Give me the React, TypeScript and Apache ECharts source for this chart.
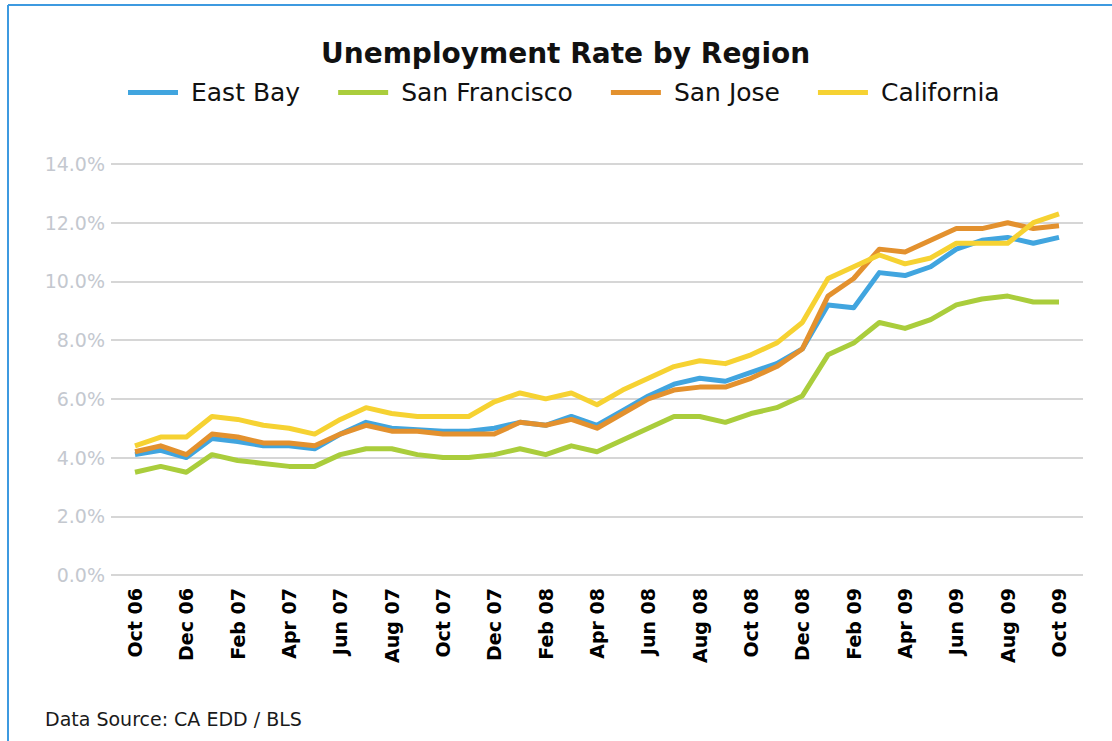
import React, { useEffect, useRef } from "react";
import * as echarts from "echarts";

const months = [
  "Oct 06", "Nov 06", "Dec 06", "Jan 07", "Feb 07", "Mar 07", "Apr 07", "May 07", "Jun 07",
  "Jul 07", "Aug 07", "Sep 07", "Oct 07", "Nov 07", "Dec 07", "Jan 08", "Feb 08", "Mar 08",
  "Apr 08", "May 08", "Jun 08", "Jul 08", "Aug 08", "Sep 08", "Oct 08", "Nov 08", "Dec 08",
  "Jan 09", "Feb 09", "Mar 09", "Apr 09", "May 09", "Jun 09", "Jul 09", "Aug 09", "Sep 09", "Oct 09",
];

const eastBay = [
  4.1, 4.25, 4.0, 4.65, 4.55, 4.4, 4.4, 4.3, 4.8, 5.2, 5.0, 4.95, 4.9, 4.9, 5.0, 5.2, 5.1, 5.4,
  5.1, 5.6, 6.1, 6.5, 6.7, 6.6, 6.9, 7.2, 7.7, 9.2, 9.1, 10.3, 10.2, 10.5, 11.1, 11.4, 11.5, 11.3, 11.5,
];
const sanFrancisco = [
  3.5, 3.7, 3.5, 4.1, 3.9, 3.8, 3.7, 3.7, 4.1, 4.3, 4.3, 4.1, 4.0, 4.0, 4.1, 4.3, 4.1, 4.4,
  4.2, 4.6, 5.0, 5.4, 5.4, 5.2, 5.5, 5.7, 6.1, 7.5, 7.9, 8.6, 8.4, 8.7, 9.2, 9.4, 9.5, 9.3, 9.3,
];
const sanJose = [
  4.2, 4.4, 4.1, 4.8, 4.7, 4.5, 4.5, 4.4, 4.8, 5.1, 4.9, 4.9, 4.8, 4.8, 4.8, 5.2, 5.1, 5.3,
  5.0, 5.5, 6.0, 6.3, 6.4, 6.4, 6.7, 7.1, 7.7, 9.5, 10.1, 11.1, 11.0, 11.4, 11.8, 11.8, 12.0, 11.8, 11.9,
];
const california = [
  4.4, 4.7, 4.7, 5.4, 5.3, 5.1, 5.0, 4.8, 5.3, 5.7, 5.5, 5.4, 5.4, 5.4, 5.9, 6.2, 6.0, 6.2,
  5.8, 6.3, 6.7, 7.1, 7.3, 7.2, 7.5, 7.9, 8.6, 10.1, 10.5, 10.9, 10.6, 10.8, 11.3, 11.3, 11.3, 12.0, 12.3,
];

const seriesNames = ["East Bay", "San Francisco", "San Jose", "California"];
const seriesColors = ["#41a5df", "#aacd3c", "#e3912e", "#f6d232"];
const seriesData = [eastBay, sanFrancisco, sanJose, california];

const title = "Unemployment Rate by Region";
const sourceNote = "Data Source: CA EDD / BLS";

export default function App() {
  const ref = useRef<HTMLDivElement>(null);

  useEffect(() => {
    if (!ref.current) return;
    const chart = echarts.init(ref.current, null, { renderer: "svg" });
    const top = 164;
    const bottom = 166;
    chart.setOption({
      animation: false,
      backgroundColor: "#ffffff",
      title: {
        text: title,
        left: 316,
        top: 34,
        textStyle: {
          fontFamily: "DejaVu Sans",
          fontWeight: "bold",
          fontSize: 28,
          color: "#111111",
        },
      },
      legend: {
        left: 123,
        top: 75,
        icon: "rect",
        itemWidth: 50,
        itemHeight: 5,
        itemGap: 38,
        data: seriesNames,
        textStyle: {
          fontFamily: "DejaVu Sans",
          fontSize: 25,
          color: "#111111",
          padding: [0, 0, 0, 8],
        },
      },
      grid: [
        { left: 111, right: 29, top, bottom },
        { left: 135, right: 53, top, bottom },
      ],
      xAxis: [
        { type: "category", gridIndex: 0, show: false, data: months },
        {
          type: "category",
          gridIndex: 1,
          data: months,
          boundaryGap: false,
          axisLine: { show: false },
          axisTick: { show: false },
          axisLabel: {
            interval: 1,
            rotate: 90,
            margin: 13,
            fontFamily: "DejaVu Sans",
            fontWeight: "bold",
            fontSize: 19,
            color: "#000000",
          },
        },
      ],
      yAxis: [
        {
          type: "value",
          gridIndex: 0,
          min: 0,
          max: 14,
          interval: 2,
          axisLine: { show: false },
          axisTick: { show: false },
          axisLabel: {
            margin: 6,
            fontFamily: "DejaVu Sans",
            fontSize: 19,
            color: "#c4c8cf",
            formatter: (v: number) => v.toFixed(1) + "%",
          },
          splitLine: { lineStyle: { color: "#c8c8c8", width: 1.5 } },
        },
        { type: "value", gridIndex: 1, min: 0, max: 14, interval: 2, show: false, splitLine: { show: false } },
      ],
      series: seriesNames.map((name, i) => ({
        name,
        type: "line",
        xAxisIndex: 1,
        yAxisIndex: 1,
        data: seriesData[i],
        showSymbol: false,
        symbol: "none",
        color: seriesColors[i],
        lineStyle: { width: 5, color: seriesColors[i], join: "round" },
        z: 2 + i,
      })),
      graphic: [
        { type: "line", shape: { x1: 8, y1: 5, x2: 1112, y2: 5 }, style: { stroke: "#3d9ae0", lineWidth: 2 } },
        { type: "line", shape: { x1: 8, y1: 5, x2: 8, y2: 741 }, style: { stroke: "#3d9ae0", lineWidth: 2 } },
        {
          type: "text",
          x: 45,
          y: 719,
          style: {
            text: sourceNote,
            fontFamily: "DejaVu Sans",
            fontSize: 19,
            fill: "#1a1a1a",
            verticalAlign: "middle",
          },
        },
      ],
    });
    return () => chart.dispose();
  }, []);

  return (
    <div
      ref={ref}
      style={{ position: "absolute", left: 0, top: 0, width: 1112, height: 741, background: "#fff" }}
    />
  );
}
